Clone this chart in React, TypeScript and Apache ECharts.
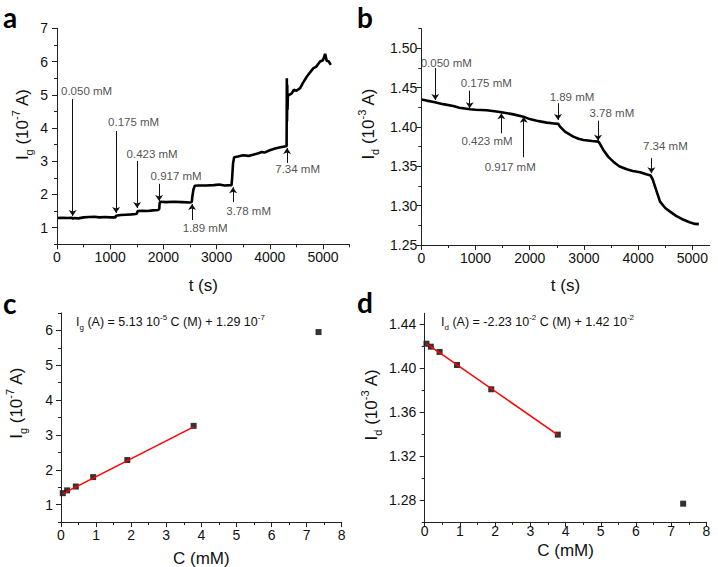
import React, { useEffect, useRef } from 'react';
import * as echarts from 'echarts';

// ---------- Panel a: Ig vs time ----------
const timeA = [0, 100, 200, 280, 300, 320, 400, 500, 600, 700, 800, 900, 1000, 1100, 1109, 1200, 1300, 1400, 1480, 1500, 1516, 1600, 1700, 1800, 1900, 1921, 1930, 1950, 2050, 2200, 2350, 2500, 2533, 2545, 2565, 2590, 2650, 2800, 2950, 3050, 3150, 3280, 3290, 3300, 3310, 3330, 3400, 3500, 3600, 3700, 3800, 3850, 3900, 4000, 4100, 4200, 4300, 4316, 4320, 4324, 4328, 4333, 4340, 4350, 4413, 4450, 4500, 4570, 4620, 4695, 4750, 4820, 4870, 4945, 5000, 5040, 5070, 5110, 5146];
const igA = [1.29, 1.30, 1.29, 1.30, 1.27, 1.29, 1.28, 1.31, 1.32, 1.33, 1.31, 1.32, 1.31, 1.31, 1.36, 1.38, 1.39, 1.40, 1.41, 1.42, 1.50, 1.51, 1.50, 1.52, 1.53, 1.56, 1.75, 1.78, 1.77, 1.78, 1.77, 1.76, 1.77, 1.95, 2.15, 2.26, 2.27, 2.27, 2.28, 2.30, 2.27, 2.28, 2.45, 2.70, 2.95, 3.12, 3.14, 3.18, 3.16, 3.20, 3.25, 3.28, 3.26, 3.33, 3.38, 3.42, 3.45, 3.46, 5.50, 4.20, 5.30, 4.55, 5.00, 4.98, 5.04, 5.15, 5.12, 5.20, 5.35, 5.54, 5.66, 5.80, 5.84, 6.00, 6.04, 6.23, 6.02, 6.00, 5.90];

// ---------- Panel b: Id vs time ----------
const timeB = [0, 100, 253, 400, 591, 700, 899, 1000, 1206, 1350, 1483, 1700, 1882, 2000, 2129, 2314, 2450, 2528, 2559, 2650, 2804, 2900, 2989, 3150, 3266, 3300, 3358, 3450, 3542, 3650, 3790, 3900, 4035, 4150, 4232, 4270, 4312, 4404, 4500, 4589, 4700, 4804, 4950, 5050, 5120];
const idB = [1.4350, 1.4335, 1.4314, 1.4290, 1.4267, 1.4245, 1.4225, 1.4218, 1.4212, 1.4200, 1.4187, 1.4160, 1.4131, 1.4100, 1.4080, 1.4055, 1.4045, 1.4039, 1.4004, 1.3940, 1.3877, 1.3850, 1.3835, 1.3822, 1.3814, 1.3780, 1.3708, 1.3620, 1.3559, 1.3500, 1.3463, 1.3440, 1.3425, 1.3400, 1.3382, 1.3330, 1.3242, 1.3051, 1.2970, 1.2924, 1.2870, 1.2831, 1.2790, 1.2768, 1.2765];

// ---------- Additions (annotations) ----------
const addLabels = ['0.050 mM', '0.175 mM', '0.423 mM', '0.917 mM', '1.89 mM', '3.78 mM', '7.34 mM'];
const arrowA_t = [295, 1111, 1506, 1919, 2539, 3310, 4325];
const arrowA_from = [4.87, 3.91, 3.01, 2.32, 1.23, 1.77, 2.95];
const arrowA_to = [1.35, 1.44, 1.59, 1.80, 1.71, 2.22, 3.40];
const labelA_t = [556, 1440, 1788, 2239, 2784, 3602, 4523];
const labelA_i = [5.11, 4.18, 3.22, 2.56, 0.99, 1.50, 2.77];

const arrowB_t = [258, 893, 1476, 1889, 2522, 3260, 4244];
const arrowB_from = [1.475, 1.4462, 1.392, 1.3615, 1.4302, 1.408, 1.3603];
const arrowB_to = [1.4344, 1.4238, 1.4175, 1.4131, 1.4089, 1.3826, 1.3412];
const labelB_t = [461, 1199, 1212, 1640, 2780, 3515, 4502];
const labelB_i = [1.4818, 1.4564, 1.3826, 1.3496, 1.4386, 1.4182, 1.3763];

// ---------- Panels c / d: calibration ----------
const concMM = [0.05, 0.175, 0.423, 0.917, 1.89, 3.78, 7.34];
const igCal = [1.33, 1.41, 1.52, 1.79, 2.28, 3.26, 5.95];
const idCal = [1.4223, 1.4196, 1.4148, 1.4029, 1.3808, 1.3395, 1.2766];
const fitConc = [0.05, 3.78];
const fitIg = [1.316, 3.23];
const fitId = [1.4223, 1.3393];

// ---------- Tick values ----------
const tickTime = [0, 1000, 2000, 3000, 4000, 5000];
const minorTime = [500, 1500, 2500, 3500, 4500, 5500];
const tickIgA = [1, 2, 3, 4, 5, 6, 7];
const minorIgA = [0.5, 1.5, 2.5, 3.5, 4.5, 5.5, 6.5];
const tickIdB = [1.25, 1.30, 1.35, 1.40, 1.45, 1.50];
const minorIdB = [1.275, 1.325, 1.375, 1.425, 1.475, 1.525];
const tickConc = [0, 1, 2, 3, 4, 5, 6, 7, 8];
const minorConc = [0.5, 1.5, 2.5, 3.5, 4.5, 5.5, 6.5, 7.5];
const tickIgC = [1, 2, 3, 4, 5, 6];
const minorIgC = [0.5, 1.5, 2.5, 3.5, 4.5, 5.5, 6.5];
const tickIdD = [1.28, 1.32, 1.36, 1.40, 1.44];
const minorIdD = [1.26, 1.30, 1.34, 1.38, 1.42];

const FONT = 'Liberation Sans';
const AXIS_COLOR = '#222';

const nameRich = {
  t: { fontSize: 17, lineHeight: 24, fontFamily: FONT, color: '#111' },
  sub: { fontSize: 11, lineHeight: 11, verticalAlign: 'bottom', fontFamily: FONT, color: '#111' },
  sup: { fontSize: 11, lineHeight: 11, verticalAlign: 'top', fontFamily: FONT, color: '#111' },
};

function axisPair(dim: 'x' | 'y', gridIndex: number, min: number, max: number, major: number[], minor: number[], cfg: any) {
  const position = dim === 'x' ? 'bottom' : 'left';
  const main: any = {
    type: 'value', gridIndex, min, max, position, offset: 0,
    axisLine: { show: true, onZero: false, lineStyle: { color: AXIS_COLOR, width: 1 } },
    axisTick: { show: true, inside: false, length: 5, customValues: major, lineStyle: { color: AXIS_COLOR, width: 1 } },
    axisLabel: { show: true, customValues: major, margin: cfg.margin, fontSize: 14, color: '#111', fontFamily: FONT, formatter: cfg.formatter },
    splitLine: { show: false },
    minorTick: { show: false },
    name: cfg.name, nameLocation: 'middle', nameGap: cfg.nameGap,
    nameTextStyle: { fontSize: 17, fontFamily: FONT, color: '#111', rich: nameRich, padding: cfg.namePadding || 0, lineHeight: 24 },
    z: 3,
  };
  const minorAxis: any = {
    type: 'value', gridIndex, min, max, position, offset: 0,
    axisLine: { show: false, onZero: false },
    axisTick: { show: true, inside: false, length: 3, customValues: minor, lineStyle: { color: AXIS_COLOR, width: 1 } },
    axisLabel: { show: false },
    splitLine: { show: false },
  };
  return [main, minorAxis];
}

function arrowMarks(ts: number[], from: number[], to: number[]) {
  return ts.map((t, i) => [{ coord: [t, from[i]] }, { coord: [t, to[i]] }]);
}

function labelPoints(ts: number[], vals: number[]) {
  return ts.map((t, i) => ({ value: [t, vals[i]], name: addLabels[i] }));
}

const annotLabel = { show: true, position: 'inside', formatter: '{b}', fontSize: 11.5, color: '#222', fontFamily: FONT };

export default function App() {
  const ref = useRef<HTMLDivElement>(null);
  useEffect(() => {
    if (!ref.current) return;
    const chart = echarts.init(ref.current, undefined, { renderer: 'svg' });
    const fmtInt = (v: number) => String(Math.round(v));
    const fmt2 = (v: number) => v.toFixed(2);

    const xa = axisPair('x', 0, 0, 5500, tickTime, minorTime, { margin: 6, formatter: fmtInt, name: 't (s)', nameGap: 29 });
    const ya = axisPair('y', 0, 0.5, 7, tickIgA, minorIgA, { margin: 9, formatter: fmtInt, name: '{t|I}{sub|g}{t| (10}{sup|-7}{t| A)}', nameGap: 23, namePadding: [0, 0, 0, 24] });
    const xb = axisPair('x', 1, 0, 5320, tickTime, minorTime, { margin: 6, formatter: fmtInt, name: 't (s)', nameGap: 28 });
    const yb = axisPair('y', 1, 1.25, 1.525, tickIdB, minorIdB, { margin: 4, formatter: fmt2, name: '{t|I}{sub|d}{t| (10}{sup|-3}{t| A)}', nameGap: 41, namePadding: [0, 0, 0, 26] });
    const xc = axisPair('x', 2, 0, 8, tickConc, minorConc, { margin: 6, formatter: fmtInt, name: 'C (mM)', nameGap: 24 });
    const yc = axisPair('y', 2, 0.5, 6.5, tickIgC, minorIgC, { margin: 8, formatter: fmtInt, name: '{t|I}{sub|g}{t| (10}{sup|-7}{t| A)}', nameGap: 33, namePadding: [0, 0, 0, 29] });
    const xd = axisPair('x', 3, 0, 8, tickConc, minorConc, { margin: 2, formatter: fmtInt, name: 'C (mM)', nameGap: 14 });
    const yd = axisPair('y', 3, 1.26, 1.45, tickIdD, minorIdD, { margin: 8.5, formatter: fmt2, name: '{t|I}{sub|d}{t| (10}{sup|-3}{t| A)}', nameGap: 41, namePadding: [0, 0, 0, 26] });

    const markArrow = (ts: number[], f: number[], t: number[]) => ({
      silent: true,
      symbol: ['none', 'arrow'],
      symbolSize: 6,
      label: { show: false },
      lineStyle: { color: '#111', width: 1, type: 'solid' },
      emphasis: { disabled: true },
      data: arrowMarks(ts, f, t),
    });

    const eqRich = {
      t: { fontSize: 12.5, fontFamily: FONT, fill: '#111', lineHeight: 18 },
      s: { fontSize: 8, fontFamily: FONT, fill: '#111', verticalAlign: 'bottom', lineHeight: 8 },
      p: { fontSize: 8, fontFamily: FONT, fill: '#111', verticalAlign: 'top', lineHeight: 8 },
    };
    const letter = (ch: string, x: number, y: number) => ({
      type: 'text', x, y, silent: true,
      style: { text: ch, fontSize: 28, lineHeight: 28, verticalAlign: 'top', fontWeight: 'bold', fontFamily: 'Lato', fill: '#000' },
    });

    chart.setOption({
      animation: false,
      backgroundColor: '#fff',
      grid: [
        { left: 57, top: 28.3, width: 292.6, height: 216, outerBoundsMode: 'none' },
        { left: 421.3, top: 28.6, width: 288.4, height: 216.4, outerBoundsMode: 'none' },
        { left: 61, top: 312.9, width: 280.7, height: 209.2, outerBoundsMode: 'none' },
        { left: 424.7, top: 313.3, width: 281.7, height: 208.6, outerBoundsMode: 'none' },
      ],
      xAxis: [...xa, ...xb, ...xc, ...xd],
      yAxis: [...ya, ...yb, ...yc, ...yd],
      series: [
        {
          type: 'line', xAxisIndex: 0, yAxisIndex: 0, showSymbol: false, symbol: 'none',
          data: timeA.map((t, i) => [t, igA[i]]),
          lineStyle: { color: '#000', width: 2.6 }, z: 2,
          markLine: markArrow(arrowA_t, arrowA_from, arrowA_to),
        },
        {
          type: 'scatter', xAxisIndex: 0, yAxisIndex: 0, symbolSize: 1, itemStyle: { color: 'rgba(0,0,0,0)' },
          data: labelPoints(labelA_t, labelA_i), label: annotLabel, silent: true,
        },
        {
          type: 'line', xAxisIndex: 2, yAxisIndex: 2, showSymbol: false, symbol: 'none',
          data: timeB.map((t, i) => [t, idB[i]]),
          lineStyle: { color: '#000', width: 2.6 }, z: 2,
          markLine: markArrow(arrowB_t, arrowB_from, arrowB_to),
        },
        {
          type: 'scatter', xAxisIndex: 2, yAxisIndex: 2, symbolSize: 1, itemStyle: { color: 'rgba(0,0,0,0)' },
          data: labelPoints(labelB_t, labelB_i), label: annotLabel, silent: true,
        },
        {
          type: 'line', xAxisIndex: 4, yAxisIndex: 4, showSymbol: false, symbol: 'none',
          data: fitConc.map((c, i) => [c, fitIg[i]]),
          lineStyle: { color: '#ff0000', width: 1.5 },
        },
        {
          type: 'scatter', xAxisIndex: 4, yAxisIndex: 4, symbol: 'rect', symbolSize: 6,
          itemStyle: { color: '#000' },
          data: concMM.map((c, i) => [c, igCal[i]]),
        },
        {
          type: 'line', xAxisIndex: 6, yAxisIndex: 6, showSymbol: false, symbol: 'none',
          data: fitConc.map((c, i) => [c, fitId[i]]),
          lineStyle: { color: '#ff0000', width: 1.5 },
        },
        {
          type: 'scatter', xAxisIndex: 6, yAxisIndex: 6, symbol: 'rect', symbolSize: 6,
          itemStyle: { color: '#000' },
          data: concMM.map((c, i) => [c, idCal[i]]),
        },
      ],
      graphic: [
        letter('a', 3, 3),
        letter('b', 357, 3),
        letter('c', 3, 289),
        letter('d', 357, 288),
        {
          type: 'text', x: 76, y: 313, silent: true,
          style: { text: '{t|I}{s|g}{t| (A) = 5.13 10}{p|-5}{t| C (M) + 1.29 10}{p|-7}', rich: eqRich },
        },
        {
          type: 'text', x: 441, y: 313, silent: true,
          style: { text: '{t|I}{s|d}{t| (A) = -2.23 10}{p|-2}{t| C (M) + 1.42 10}{p|-2}', rich: eqRich },
        },
      ],
    });
    return () => chart.dispose();
  }, []);
  return <div ref={ref} style={{ position: 'absolute', left: 0, top: 0, width: 718, height: 567, background: '#fff' }} />;
}
